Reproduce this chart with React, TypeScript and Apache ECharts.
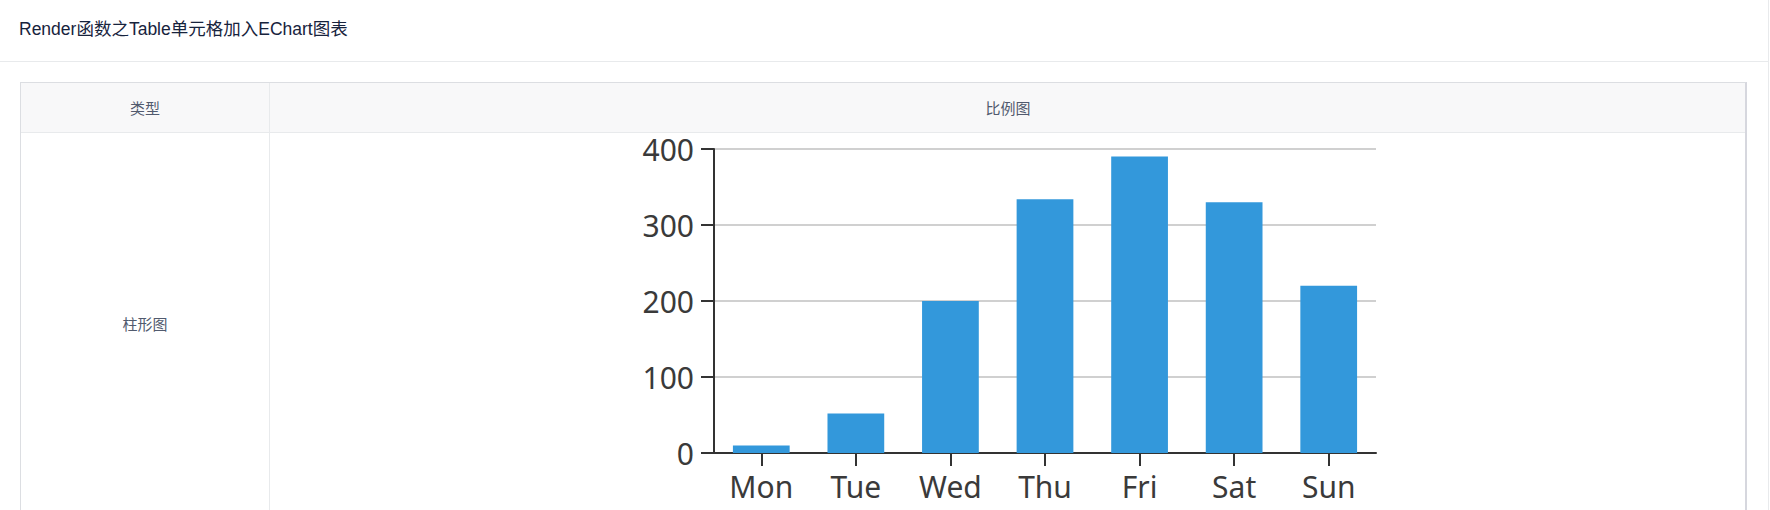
import React, { useEffect, useRef } from "react";
import * as echarts from "echarts";

const categories = ["Mon", "Tue", "Wed", "Thu", "Fri", "Sat", "Sun"];
const values = [10, 52, 200, 334, 390, 330, 220];
const yMin = 0;
const yMax = 400;
const yInterval = 100;

const pageTitle = "Render函数之Table单元格加入EChart图表";
const headerType = "类型";
const headerChart = "比例图";
const rowType = "柱形图";

const FONT = 'Arial, "Liberation Sans", "Noto Sans CJK SC", sans-serif';

function BarChart() {
  const ref = useRef<HTMLDivElement>(null);
  useEffect(() => {
    if (!ref.current) return;
    const chart = echarts.init(ref.current, null, { renderer: "svg" });
    chart.setOption({
      animation: false,
      grid: { left: 444, right: 371, top: 49, bottom: 57, containLabel: false },
      xAxis: {
        type: "category",
        data: categories,
        axisLine: { show: true, lineStyle: { color: "#333", width: 2 } },
        axisTick: { show: true, alignWithLabel: true, length: 13, lineStyle: { color: "#333", width: 2 } },
        axisLabel: { color: "#3a3a3a", fontSize: 30, fontFamily: "Noto Sans", margin: 18 },
        splitLine: { show: false },
      },
      yAxis: {
        type: "value",
        min: yMin,
        max: yMax,
        interval: yInterval,
        axisLine: { show: true, lineStyle: { color: "#333", width: 2 } },
        axisTick: { show: true, length: 13, lineStyle: { color: "#333", width: 2 } },
        axisLabel: { color: "#3a3a3a", fontSize: 30, fontFamily: "Noto Sans", margin: 20 },
        splitLine: { show: true, lineStyle: { color: "#d0d0d0", width: 2 } },
      },
      series: [
        {
          type: "bar",
          data: values,
          barWidth: "60%",
          itemStyle: { color: "#3398DB" },
        },
      ],
    });
    return () => chart.dispose();
  }, []);
  return (
    <div
      ref={ref}
      style={{ position: "absolute", left: 270, top: 100, width: 1477, height: 410 }}
    />
  );
}

export default function App() {
  return (
    <div
      style={{
        position: "absolute",
        left: 0,
        top: 0,
        width: 1770,
        height: 510,
        overflow: "hidden",
        background: "#fff",
        fontFamily: FONT,
      }}
    >
      {/* card right border */}
      <div style={{ position: "absolute", left: 1768, top: 0, width: 1, height: 510, background: "#e8eaec" }} />
      {/* card header bottom line */}
      <div style={{ position: "absolute", left: 0, top: 61, width: 1769, height: 1, background: "#e8eaec" }} />
      <div
        style={{
          position: "absolute",
          left: 19,
          top: 19,
          lineHeight: "20px",
          fontSize: 17.5,
          color: "#17233d",
          whiteSpace: "nowrap",
        }}
      >
        {pageTitle}
      </div>

      {/* table */}
      <div
        style={{
          position: "absolute",
          left: 20,
          top: 82,
          width: 1727,
          height: 440,
          borderTop: "1px solid #dcdee2",
          borderLeft: "1px solid #dcdee2",
          borderRight: "2px solid #d6d7de",
          boxSizing: "border-box",
        }}
      >
        <div
          style={{
            position: "absolute",
            left: 0,
            top: 0,
            width: "100%",
            height: 49,
            background: "#f8f8f9",
            borderBottom: "1px solid #e8eaec",
          }}
        />
        <div
          style={{
            position: "absolute",
            left: 248,
            top: 0,
            width: 1,
            height: 440,
            background: "#e8eaec",
          }}
        />
        <div
          style={{
            position: "absolute",
            left: 0,
            top: 0,
            width: 248,
            height: 49,
            display: "flex",
            alignItems: "center",
            justifyContent: "center",
            fontSize: 15,
            color: "#515a6e",
          }}
        >
          {headerType}
        </div>
        <div
          style={{
            position: "absolute",
            left: 249,
            top: 0,
            width: 1476,
            height: 49,
            display: "flex",
            alignItems: "center",
            justifyContent: "center",
            fontSize: 15,
            color: "#515a6e",
          }}
        >
          {headerChart}
        </div>
        <div
          style={{
            position: "absolute",
            left: 0,
            top: 50,
            width: 248,
            height: 380,
            display: "flex",
            alignItems: "center",
            justifyContent: "center",
            fontSize: 15,
            color: "#515a6e",
          }}
        >
          {rowType}
        </div>
      </div>
      <BarChart />
    </div>
  );
}
